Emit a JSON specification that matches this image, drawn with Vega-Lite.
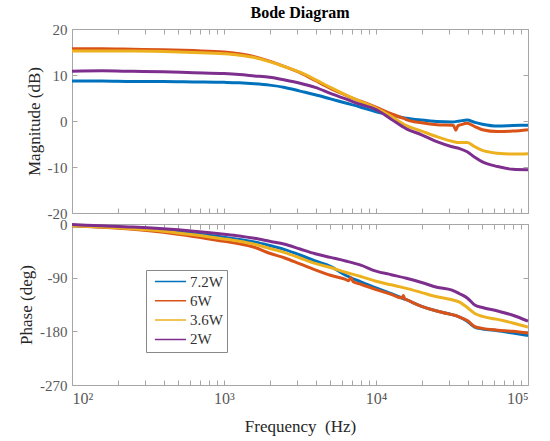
{
  "$schema": "https://vega.github.io/schema/vega-lite/v6.json",
  "padding": {"left": 17, "top": 4, "right": 5, "bottom": 2},
  "bounds": "flush",
  "config": {
    "font": "Liberation Serif",
    "view": {"stroke": "#a6a6a6", "strokeWidth": 1},
    "axis": {
      "domain": false, "grid": false, "minExtent": 0,
      "tickColor": "#a6a6a6", "tickSize": -5, "tickWidth": 1,
      "labelFont": "Liberation Serif", "labelFontSize": 15, "labelColor": "#595959", "labelPadding": 10,
      "titleFont": "Liberation Serif", "titleFontSize": 17, "titleColor": "#262626", "titleFontWeight": "normal"
    }
  },
  "datasets": {
    "d": [
      {"s":"7.2W","f":100,"m":8.7,"p":-3},{"s":"7.2W","f":158,"m":8.7,"p":-5},{"s":"7.2W","f":251,"m":8.6,"p":-7},{"s":"7.2W","f":398,"m":8.6,"p":-11},{"s":"7.2W","f":631,"m":8.5,"p":-16},{"s":"7.2W","f":1000,"m":8.4,"p":-22},{"s":"7.2W","f":1259,"m":8.3,"p":-26},{"s":"7.2W","f":1585,"m":8.1,"p":-30},{"s":"7.2W","f":1995,"m":7.8,"p":-36},{"s":"7.2W","f":2512,"m":7.3,"p":-43},{"s":"7.2W","f":3162,"m":6.5,"p":-52},{"s":"7.2W","f":3981,"m":5.7,"p":-62},{"s":"7.2W","f":5012,"m":4.8,"p":-71},{"s":"7.2W","f":6310,"m":3.9,"p":-86},{"s":"7.2W","f":7943,"m":3.0,"p":-97},{"s":"7.2W","f":10000,"m":2.0,"p":-107},{"s":"7.2W","f":12589,"m":1.3,"p":-117},{"s":"7.2W","f":15849,"m":0.6,"p":-127},{"s":"7.2W","f":19953,"m":0.2,"p":-138},{"s":"7.2W","f":25119,"m":-0.1,"p":-146},{"s":"7.2W","f":31623,"m":-0.2,"p":-152},{"s":"7.2W","f":35481,"m":0.0,"p":-156},{"s":"7.2W","f":39811,"m":0.2,"p":-163},{"s":"7.2W","f":44668,"m":-0.3,"p":-173},{"s":"7.2W","f":50119,"m":-0.7,"p":-176},{"s":"7.2W","f":63096,"m":-1.1,"p":-179},{"s":"7.2W","f":79433,"m":-1.0,"p":-183},{"s":"7.2W","f":100000,"m":-0.9,"p":-187},
      {"s":"6W","f":100,"m":15.7,"p":-3},{"s":"6W","f":158,"m":15.7,"p":-5.5},{"s":"6W","f":251,"m":15.6,"p":-9},{"s":"6W","f":398,"m":15.5,"p":-14},{"s":"6W","f":631,"m":15.3,"p":-21},{"s":"6W","f":1000,"m":15.0,"p":-29},{"s":"6W","f":1259,"m":14.6,"p":-33},{"s":"6W","f":1585,"m":14.0,"p":-39},{"s":"6W","f":1995,"m":13.0,"p":-49},{"s":"6W","f":2512,"m":11.8,"p":-57},{"s":"6W","f":3162,"m":10.5,"p":-67},{"s":"6W","f":3981,"m":8.8,"p":-77},{"s":"6W","f":5012,"m":7.1,"p":-86},{"s":"6W","f":6310,"m":5.6,"p":-93},{"s":"6W","f":6607,"m":5.3,"p":-95},{"s":"6W","f":6839,"m":5.1,"p":-90},{"s":"6W","f":7079,"m":4.9,"p":-97},{"s":"6W","f":7943,"m":4.3,"p":-101},{"s":"6W","f":10000,"m":3.0,"p":-110},{"s":"6W","f":12589,"m":1.6,"p":-118},{"s":"6W","f":14791,"m":0.7,"p":-124},{"s":"6W","f":15136,"m":0.6,"p":-120},{"s":"6W","f":15488,"m":0.5,"p":-126},{"s":"6W","f":15849,"m":0.3,"p":-127},{"s":"6W","f":19953,"m":-0.4,"p":-138},{"s":"6W","f":25119,"m":-0.8,"p":-146},{"s":"6W","f":31623,"m":-0.9,"p":-152},{"s":"6W","f":32359,"m":-1.0,"p":-152.5},{"s":"6W","f":33497,"m":-2.0,"p":-153.5},{"s":"6W","f":34674,"m":-1.0,"p":-155},{"s":"6W","f":35481,"m":-0.9,"p":-156},{"s":"6W","f":39811,"m":-0.5,"p":-162},{"s":"6W","f":44668,"m":-1.2,"p":-172},{"s":"6W","f":50119,"m":-1.9,"p":-175},{"s":"6W","f":63096,"m":-2.3,"p":-178},{"s":"6W","f":79433,"m":-2.2,"p":-180},{"s":"6W","f":100000,"m":-1.9,"p":-183},
      {"s":"3.6W","f":100,"m":15.2,"p":-3},{"s":"3.6W","f":158,"m":15.2,"p":-5},{"s":"3.6W","f":251,"m":15.2,"p":-8},{"s":"3.6W","f":398,"m":15.1,"p":-12},{"s":"3.6W","f":631,"m":14.9,"p":-18},{"s":"3.6W","f":1000,"m":14.6,"p":-25},{"s":"3.6W","f":1259,"m":14.3,"p":-29},{"s":"3.6W","f":1585,"m":13.8,"p":-34},{"s":"3.6W","f":1995,"m":12.9,"p":-41},{"s":"3.6W","f":2512,"m":11.8,"p":-48},{"s":"3.6W","f":3162,"m":10.6,"p":-57},{"s":"3.6W","f":3981,"m":9.0,"p":-66},{"s":"3.6W","f":5012,"m":7.3,"p":-73},{"s":"3.6W","f":6310,"m":5.7,"p":-81},{"s":"3.6W","f":7943,"m":4.2,"p":-88},{"s":"3.6W","f":10000,"m":2.8,"p":-96},{"s":"3.6W","f":12589,"m":1.0,"p":-102},{"s":"3.6W","f":15849,"m":-1.0,"p":-108},{"s":"3.6W","f":19953,"m":-2.2,"p":-115},{"s":"3.6W","f":25119,"m":-3.4,"p":-122},{"s":"3.6W","f":31623,"m":-4.4,"p":-127},{"s":"3.6W","f":35481,"m":-4.7,"p":-131},{"s":"3.6W","f":39811,"m":-4.7,"p":-140},{"s":"3.6W","f":44668,"m":-5.6,"p":-150},{"s":"3.6W","f":50119,"m":-6.4,"p":-155},{"s":"3.6W","f":63096,"m":-7.0,"p":-160},{"s":"3.6W","f":79433,"m":-7.2,"p":-166},{"s":"3.6W","f":100000,"m":-7.1,"p":-173},
      {"s":"2W","f":100,"m":10.8,"p":-1},{"s":"2W","f":158,"m":10.9,"p":-3},{"s":"2W","f":251,"m":10.8,"p":-5},{"s":"2W","f":398,"m":10.7,"p":-8},{"s":"2W","f":631,"m":10.5,"p":-12},{"s":"2W","f":1000,"m":10.3,"p":-17},{"s":"2W","f":1259,"m":10.1,"p":-20},{"s":"2W","f":1585,"m":9.8,"p":-24},{"s":"2W","f":1995,"m":9.5,"p":-29},{"s":"2W","f":2512,"m":8.9,"p":-34},{"s":"2W","f":3162,"m":8.2,"p":-42},{"s":"2W","f":3981,"m":7.3,"p":-50},{"s":"2W","f":5012,"m":6.0,"p":-56},{"s":"2W","f":6310,"m":4.8,"p":-62},{"s":"2W","f":7943,"m":3.6,"p":-69},{"s":"2W","f":10000,"m":2.5,"p":-79},{"s":"2W","f":12589,"m":0.4,"p":-85},{"s":"2W","f":15849,"m":-1.7,"p":-91},{"s":"2W","f":19953,"m":-3.0,"p":-98},{"s":"2W","f":25119,"m":-4.5,"p":-106},{"s":"2W","f":31623,"m":-5.6,"p":-111},{"s":"2W","f":35481,"m":-6.0,"p":-117},{"s":"2W","f":39811,"m":-6.7,"p":-124},{"s":"2W","f":44668,"m":-7.9,"p":-136},{"s":"2W","f":50119,"m":-8.9,"p":-140},{"s":"2W","f":63096,"m":-9.9,"p":-146},{"s":"2W","f":79433,"m":-10.5,"p":-153},{"s":"2W","f":100000,"m":-10.6,"p":-163}
    ]
  },
  "spacing": 11,
  "resolve": {"scale": {"color": "independent"}, "legend": {"color": "independent"}},
  "vconcat": [
    {
      "width": 456, "height": 184,
      "title": {"text": "Bode Diagram", "fontSize": 16, "fontWeight": "bold", "color": "#000000", "offset": 1},
      "data": {"name": "d"},
      "layer": [
        {
          "mark": {"type": "line", "strokeWidth": 3, "interpolate": "monotone"},
          "encoding": {
            "x": {"field": "f", "type": "quantitative", "scale": {"type": "log", "domain": [100, 100000]},
                  "axis": {"orient": "bottom", "labels": false, "title": null,
                           "values": [100,200,300,400,500,600,700,800,900,1000,2000,3000,4000,5000,6000,7000,8000,9000,10000,20000,30000,40000,50000,60000,70000,80000,90000,100000]}},
            "y": {"field": "m", "type": "quantitative", "scale": {"domain": [-20, 20]},
                  "axis": {"orient": "left", "values": [-20,-10,0,10,20], "title": "Magnitude (dB)",
                           "labelExpr": "replace(datum.label, '−', '-')"}},
            "color": {"field": "s", "type": "nominal", "scale": {"domain": ["7.2W","6W","3.6W","2W"], "range": ["#0072BD","#D95319","#EDB120","#7E2F8E"]}, "legend": null}
          }
        },
        {
          "mark": {"type": "point", "opacity": 0},
          "encoding": {
            "x": {"field": "f", "type": "quantitative", "scale": {"type": "log", "domain": [100, 100000]},
                  "axis": {"orient": "top", "labels": false, "title": null,
                           "values": [100,200,300,400,500,600,700,800,900,1000,2000,3000,4000,5000,6000,7000,8000,9000,10000,20000,30000,40000,50000,60000,70000,80000,90000,100000]}},
            "y": {"field": "m", "type": "quantitative", "scale": {"domain": [-20, 20]},
                  "axis": {"orient": "right", "labels": false, "title": null, "values": [-20,-10,0,10,20]}}
          }
        }
      ],
      "resolve": {"axis": {"x": "independent", "y": "independent"}}
    },
    {
      "width": 456, "height": 161,
      "data": {"name": "d"},
      "layer": [
        {
          "mark": {"type": "line", "strokeWidth": 3, "interpolate": "monotone"},
          "encoding": {
            "x": {"field": "f", "type": "quantitative", "scale": {"type": "log", "domain": [100, 100000]},
                  "axis": {"orient": "bottom", "title": "Frequency\u00a0 (Hz)", "titlePadding": 12,
                           "labelFontSize": 16,
                           "labelExpr": "datum.value == 100 ? '10²' : datum.value == 1000 ? '10³' : datum.value == 10000 ? '10⁴' : datum.value == 100000 ? '10⁵' : ''",
                           "values": [100,200,300,400,500,600,700,800,900,1000,2000,3000,4000,5000,6000,7000,8000,9000,10000,20000,30000,40000,50000,60000,70000,80000,90000,100000]}},
            "y": {"field": "p", "type": "quantitative", "scale": {"domain": [-270, 0]},
                  "axis": {"orient": "left", "values": [-270,-180,-90,0], "title": "Phase (deg)",
                           "labelExpr": "replace(datum.label, '−', '-')"}},
            "color": {"field": "s", "type": "nominal", "scale": {"domain": ["7.2W","6W","3.6W","2W"], "range": ["#0072BD","#D95319","#EDB120","#7E2F8E"]},
                      "legend": {"orient": "none", "legendX": 74, "legendY": 46, "title": null,
                                 "symbolType": "M-3,0H3", "symbolStrokeWidth": 1.5, "symbolSize": 108,
                                 "symbolFillColor": "transparent", "symbolOffset": 13, "labelOffset": 12,
                                 "labelFont": "Liberation Serif", "labelFontSize": 15, "labelColor": "#333333",
                                 "fillColor": "#ffffff", "strokeColor": "#888888", "padding": 4, "rowPadding": 3.3}}
          }
        },
        {
          "mark": {"type": "point", "opacity": 0},
          "encoding": {
            "x": {"field": "f", "type": "quantitative", "scale": {"type": "log", "domain": [100, 100000]},
                  "axis": {"orient": "top", "labels": false, "title": null,
                           "values": [100,200,300,400,500,600,700,800,900,1000,2000,3000,4000,5000,6000,7000,8000,9000,10000,20000,30000,40000,50000,60000,70000,80000,90000,100000]}},
            "y": {"field": "p", "type": "quantitative", "scale": {"domain": [-270, 0]},
                  "axis": {"orient": "right", "labels": false, "title": null, "values": [-270,-180,-90,0]}}
          }
        }
      ],
      "resolve": {"axis": {"x": "independent", "y": "independent"}}
    }
  ]
}
